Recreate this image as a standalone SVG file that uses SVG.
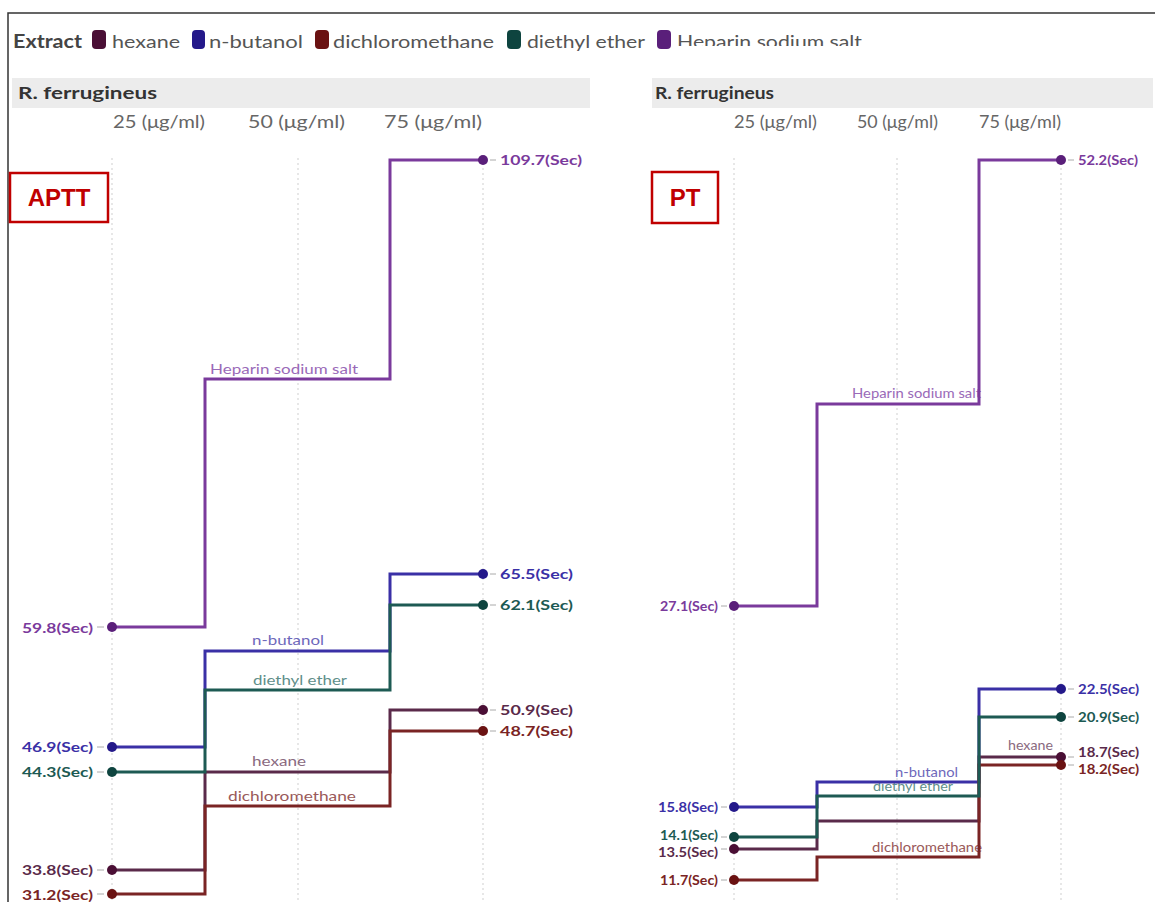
<svg xmlns="http://www.w3.org/2000/svg" width="1155" height="902" viewBox="0 0 1155 902">
<style>
text{font-family:Lato,"Open Sans","Liberation Sans",sans-serif}
.leg{font-size:18px;fill:#555}
.hdr{font-size:17px;font-weight:bold;fill:#333}
.col{font-size:17px;fill:#666}
.val{font-size:13.5px;font-weight:bold}
.vs{font-size:12.5px}
.seg{font-size:13.5px}
.grid{stroke:#cfcfcf;stroke-width:1;stroke-dasharray:2 3}
.ln{fill:none;stroke-width:3;stroke-linejoin:miter}
.tick{stroke:#aaa;stroke-width:1}
.box{fill:#fff;stroke:#c00000;stroke-width:2.5}
.boxt{font-size:24px;font-weight:bold;fill:#c00000;font-family:"Liberation Sans",Arial,sans-serif}
.hep{stroke:#7a3a9c}.hepf{fill:#7a3a9c}.hepd{fill:#5a1f7a}.heps{fill:#9a6ab8}
.but{stroke:#3a30a6}.butf{fill:#3a30a6}.butd{fill:#24198a}.buts{fill:#6e68bb}
.eth{stroke:#1d5a53}.ethf{fill:#1d5a53}.ethd{fill:#0e443f}.eths{fill:#5f8f8a}
.hex{stroke:#5a2a4a}.hexf{fill:#5a2a4a}.hexd{fill:#4a0f35}.hexs{fill:#8a6a80}
.dcm{stroke:#7a2424}.dcmf{fill:#7a2424}.dcmd{fill:#6a1212}.dcms{fill:#9a5a5a}
</style>
<defs>
<clipPath id="legclip"><rect x="670" y="20" width="220" height="26"/></clipPath>
</defs>

<path d="M8,902 V13 H1155" fill="none" stroke="#333" stroke-width="1.5"/>

<g id="legend">
<text x="13" y="48" class="leg" font-weight="bold" style="fill:#444" textLength="69" lengthAdjust="spacingAndGlyphs">Extract</text>
<rect x="92" y="30" width="14" height="19" rx="4" class="hexd"/>
<text x="112" y="48" class="leg" textLength="68" lengthAdjust="spacingAndGlyphs">hexane</text>
<rect x="192" y="30" width="13" height="19" rx="4" class="butd"/>
<text x="209" y="48" class="leg" textLength="94" lengthAdjust="spacingAndGlyphs">n-butanol</text>
<rect x="315" y="30" width="14" height="19" rx="4" class="dcmd"/>
<text x="333" y="48" class="leg" textLength="161" lengthAdjust="spacingAndGlyphs">dichloromethane</text>
<rect x="507" y="30" width="14" height="19" rx="4" class="ethd"/>
<text x="527" y="48" class="leg" textLength="118" lengthAdjust="spacingAndGlyphs">diethyl ether</text>
<rect x="657" y="30" width="14" height="19" rx="4" class="hepd"/>
<text x="677" y="48" class="leg" clip-path="url(#legclip)" textLength="185" lengthAdjust="spacingAndGlyphs">Heparin sodium salt</text>
</g>

<g id="aptt-panel">
<rect x="12" y="78" width="578" height="30" fill="#ececec"/>
<text x="18" y="99" class="hdr" textLength="139" lengthAdjust="spacingAndGlyphs">R. ferrugineus</text>
<text x="113" y="128" class="col" textLength="92" lengthAdjust="spacingAndGlyphs">25 (μg/ml)</text>
<text x="248" y="128" class="col" textLength="97" lengthAdjust="spacingAndGlyphs">50 (μg/ml)</text>
<text x="384" y="128" class="col" textLength="98" lengthAdjust="spacingAndGlyphs">75 (μg/ml)</text>
<line x1="112" y1="158" x2="112" y2="902" class="grid"/>
<line x1="298" y1="158" x2="298" y2="902" class="grid"/>
<line x1="483" y1="158" x2="483" y2="902" class="grid"/>
</g>
<g id="aptt-label">
<rect x="10" y="173" width="98" height="49" class="box"/>
<text x="59" y="206" text-anchor="middle" class="boxt">APTT</text>
</g>

<g id="pt-panel">
<rect x="652" y="78" width="501" height="30" fill="#ececec"/>
<text x="655" y="99" class="hdr" textLength="119" lengthAdjust="spacingAndGlyphs">R. ferrugineus</text>
<text x="734" y="128" class="col" textLength="83" lengthAdjust="spacingAndGlyphs">25 (μg/ml)</text>
<text x="857" y="128" class="col" textLength="81" lengthAdjust="spacingAndGlyphs">50 (μg/ml)</text>
<text x="979" y="128" class="col" textLength="82" lengthAdjust="spacingAndGlyphs">75 (μg/ml)</text>
<line x1="734" y1="158" x2="734" y2="902" class="grid"/>
<line x1="897" y1="158" x2="897" y2="902" class="grid"/>
<line x1="1061" y1="158" x2="1061" y2="902" class="grid"/>
</g>
<g id="pt-label">
<rect x="652" y="172" width="66" height="51" class="box"/>
<text x="685" y="206" text-anchor="middle" class="boxt">PT</text>
</g>

<g id="segment-labels">
<text x="210" y="374" class="seg heps" textLength="148" lengthAdjust="spacingAndGlyphs">Heparin sodium salt</text>
<text x="252" y="645" class="seg buts" textLength="72" lengthAdjust="spacingAndGlyphs">n-butanol</text>
<text x="253" y="685" class="seg eths" textLength="94" lengthAdjust="spacingAndGlyphs">diethyl ether</text>
<text x="252" y="766" class="seg hexs" textLength="54" lengthAdjust="spacingAndGlyphs">hexane</text>
<text x="228" y="801" class="seg dcms" textLength="128" lengthAdjust="spacingAndGlyphs">dichloromethane</text>
<text x="852" y="398" class="seg heps" textLength="129" lengthAdjust="spacingAndGlyphs">Heparin sodium salt</text>
<text x="895" y="777" class="seg buts" textLength="63" lengthAdjust="spacingAndGlyphs">n-butanol</text>
<text x="873" y="791" class="seg eths" textLength="80" lengthAdjust="spacingAndGlyphs">diethyl ether</text>
<text x="1008" y="750" class="seg hexs" textLength="45" lengthAdjust="spacingAndGlyphs">hexane</text>
<text x="872" y="852" class="seg dcms" textLength="110" lengthAdjust="spacingAndGlyphs">dichloromethane</text>
</g>

<g id="connectors">
<polyline class="ln hep" points="112,627 205,627 205,379 390,379 390,160 483,160"/>
<polyline class="ln but" points="112,747 205,747 205,651 390,651 390,574 483,574"/>
<polyline class="ln hex" points="112,870 205,870 205,772 390,772 390,710 483,710"/>
<polyline class="ln dcm" points="112,894 205,894 205,806 390,806 390,731 483,731"/>
<polyline class="ln eth" points="112,772 205,772 205,690 390,690 390,605 483,605"/>
<polyline class="ln hep" points="734,606 817,606 817,404 979,404 979,160 1061,160"/>
<polyline class="ln but" points="734,807 817,807 817,782 979,782 979,689 1061,689"/>
<polyline class="ln hex" points="734,849 817,849 817,821 979,821 979,757 1061,757"/>
<polyline class="ln dcm" points="734,880 817,880 817,857 979,857 979,765 1061,765"/>
<polyline class="ln eth" points="734,837 817,837 817,796 979,796 979,717 1061,717"/>
</g>

<g id="aptt-points">
<g class="tick">
<line x1="97" y1="627" x2="104" y2="627"/><line x1="97" y1="747" x2="104" y2="747"/><line x1="97" y1="772" x2="104" y2="772"/><line x1="97" y1="870" x2="104" y2="870"/><line x1="97" y1="894" x2="104" y2="894"/>
<line x1="490" y1="160" x2="496" y2="160"/><line x1="490" y1="574" x2="496" y2="574"/><line x1="490" y1="605" x2="496" y2="605"/><line x1="490" y1="710" x2="496" y2="710"/><line x1="490" y1="731" x2="496" y2="731"/>
</g>
<circle cx="112" cy="627" r="5" class="hepd"/><circle cx="483" cy="160" r="5" class="hepd"/>
<circle cx="112" cy="747" r="5" class="butd"/><circle cx="483" cy="574" r="5" class="butd"/>
<circle cx="112" cy="772" r="5" class="ethd"/><circle cx="483" cy="605" r="5" class="ethd"/>
<circle cx="112" cy="870" r="5" class="hexd"/><circle cx="483" cy="710" r="5" class="hexd"/>
<circle cx="112" cy="894" r="5" class="dcmd"/><circle cx="483" cy="731" r="5" class="dcmd"/>
<text x="93" y="633" text-anchor="end" class="val hepf" textLength="71" lengthAdjust="spacingAndGlyphs">59.8(Sec)</text>
<text x="93" y="752" text-anchor="end" class="val butf" textLength="71" lengthAdjust="spacingAndGlyphs">46.9(Sec)</text>
<text x="93" y="777" text-anchor="end" class="val ethf" textLength="71" lengthAdjust="spacingAndGlyphs">44.3(Sec)</text>
<text x="93" y="875" text-anchor="end" class="val hexf" textLength="71" lengthAdjust="spacingAndGlyphs">33.8(Sec)</text>
<text x="93" y="900" text-anchor="end" class="val dcmf" textLength="71" lengthAdjust="spacingAndGlyphs">31.2(Sec)</text>
<text x="500" y="165" class="val hepf" textLength="82" lengthAdjust="spacingAndGlyphs">109.7(Sec)</text>
<text x="500" y="579" class="val butf" textLength="73" lengthAdjust="spacingAndGlyphs">65.5(Sec)</text>
<text x="500" y="610" class="val ethf" textLength="73" lengthAdjust="spacingAndGlyphs">62.1(Sec)</text>
<text x="500" y="715" class="val hexf" textLength="73" lengthAdjust="spacingAndGlyphs">50.9(Sec)</text>
<text x="500" y="736" class="val dcmf" textLength="73" lengthAdjust="spacingAndGlyphs">48.7(Sec)</text>
</g>

<g id="pt-points">
<g class="tick">
<line x1="721" y1="606" x2="727" y2="606"/><line x1="721" y1="807" x2="727" y2="807"/><line x1="721" y1="837" x2="727" y2="837"/><line x1="721" y1="849" x2="727" y2="849"/><line x1="721" y1="880" x2="727" y2="880"/>
<line x1="1068" y1="160" x2="1074" y2="160"/><line x1="1068" y1="689" x2="1074" y2="689"/><line x1="1068" y1="717" x2="1074" y2="717"/><line x1="1068" y1="757" x2="1074" y2="757"/><line x1="1068" y1="765" x2="1074" y2="765"/>
</g>
<circle cx="734" cy="606" r="5" class="hepd"/><circle cx="1061" cy="160" r="5" class="hepd"/>
<circle cx="734" cy="807" r="5" class="butd"/><circle cx="1061" cy="689" r="5" class="butd"/>
<circle cx="734" cy="837" r="5" class="ethd"/><circle cx="1061" cy="717" r="5" class="ethd"/>
<circle cx="734" cy="849" r="5" class="hexd"/><circle cx="1061" cy="757" r="5" class="hexd"/>
<circle cx="734" cy="880" r="5" class="dcmd"/><circle cx="1061" cy="765" r="5" class="dcmd"/>
<text x="718" y="611" text-anchor="end" class="val vs hepf" textLength="58" lengthAdjust="spacingAndGlyphs">27.1(Sec)</text>
<text x="718" y="812" text-anchor="end" class="val vs butf" textLength="60" lengthAdjust="spacingAndGlyphs">15.8(Sec)</text>
<text x="718" y="840" text-anchor="end" class="val vs ethf" textLength="58" lengthAdjust="spacingAndGlyphs">14.1(Sec)</text>
<text x="718" y="857" text-anchor="end" class="val vs hexf" textLength="60" lengthAdjust="spacingAndGlyphs">13.5(Sec)</text>
<text x="718" y="885" text-anchor="end" class="val vs dcmf" textLength="58" lengthAdjust="spacingAndGlyphs">11.7(Sec)</text>
<text x="1078" y="165" class="val vs hepf" textLength="60" lengthAdjust="spacingAndGlyphs">52.2(Sec)</text>
<text x="1078" y="694" class="val vs butf" textLength="61" lengthAdjust="spacingAndGlyphs">22.5(Sec)</text>
<text x="1078" y="722" class="val vs ethf" textLength="61" lengthAdjust="spacingAndGlyphs">20.9(Sec)</text>
<text x="1078" y="757" class="val vs hexf" textLength="61" lengthAdjust="spacingAndGlyphs">18.7(Sec)</text>
<text x="1078" y="774" class="val vs dcmf" textLength="61" lengthAdjust="spacingAndGlyphs">18.2(Sec)</text>
</g>
</svg>
